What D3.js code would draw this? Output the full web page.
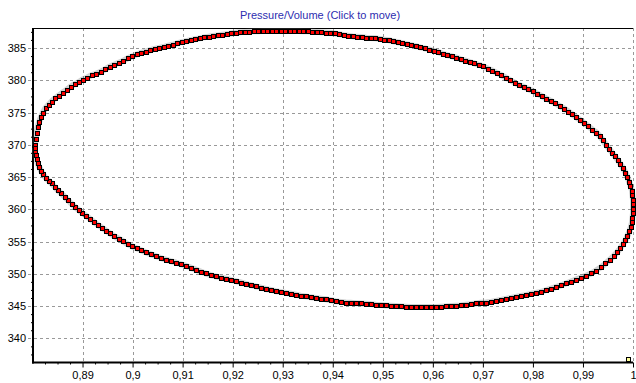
<!DOCTYPE html>
<html>
<head>
<meta charset="utf-8">
<script src="https://cdn.jsdelivr.net/npm/d3@7"></script>
<style>
    body { margin: 0; background: #fff; }
    svg { display: block; font-family: "Liberation Sans", Arial, sans-serif; }
</style>
</head>
<body>
<div id="chart"></div>
<script>
// one cycle: upper branch left -> right, then lower branch back
const volume = [
    0.8805, 0.8806, 0.8808, 0.8810, 0.8813, 0.8817, 0.8821, 0.8826, 0.8832, 0.8838,
    0.8845, 0.8852, 0.8860, 0.8868, 0.8876, 0.8884, 0.8892, 0.8900, 0.8909, 0.8918,
    0.8927, 0.8936, 0.8945, 0.8954, 0.8963, 0.8972, 0.8981, 0.8990, 0.8999, 0.9008,
    0.9017, 0.9026, 0.9035, 0.9044, 0.9053, 0.9062, 0.9071, 0.9080, 0.9089, 0.9098,
    0.9107, 0.9116, 0.9125, 0.9134, 0.9143, 0.9152, 0.9161, 0.9170, 0.9179, 0.9188,
    0.9197, 0.9206, 0.9215, 0.9224, 0.9233, 0.9242, 0.9251, 0.9260, 0.9269, 0.9278,
    0.9287, 0.9296, 0.9305, 0.9314, 0.9323, 0.9332, 0.9341, 0.9350, 0.9359, 0.9368,
    0.9377, 0.9386, 0.9395, 0.9404, 0.9413, 0.9422, 0.9431, 0.9440, 0.9449, 0.9458,
    0.9467, 0.9476, 0.9485, 0.9494, 0.9503, 0.9512, 0.9521, 0.9530, 0.9539, 0.9548,
    0.9557, 0.9566, 0.9575, 0.9584, 0.9593, 0.9602, 0.9611, 0.9620, 0.9629, 0.9638,
    0.9647, 0.9656, 0.9665, 0.9674, 0.9683, 0.9692, 0.9701, 0.9710, 0.9719, 0.9728,
    0.9737, 0.9746, 0.9755, 0.9764, 0.9773, 0.9782, 0.9791, 0.9800, 0.9809, 0.9818,
    0.9827, 0.9836, 0.9845, 0.9854, 0.9863, 0.9871, 0.9879, 0.9887, 0.9895, 0.9903,
    0.9911, 0.9919, 0.9927, 0.9934, 0.9940, 0.9946, 0.9952, 0.9958, 0.9964, 0.9970,
    0.9975, 0.9980, 0.9985, 0.9989, 0.9992, 0.9995, 0.9998, 0.9999, 1.0000, 1.0000,
    1.0000,
    1.0000, 0.9999, 0.9998, 0.9996, 0.9993, 0.9989, 0.9985, 0.9980, 0.9975, 0.9969,
    0.9962, 0.9954, 0.9945, 0.9936, 0.9926, 0.9916, 0.9906, 0.9896, 0.9886, 0.9876,
    0.9866, 0.9856, 0.9846, 0.9836, 0.9826, 0.9816, 0.9806, 0.9796, 0.9786, 0.9776,
    0.9766, 0.9756, 0.9746, 0.9736, 0.9726, 0.9716, 0.9706, 0.9696, 0.9686, 0.9676,
    0.9666, 0.9656, 0.9646, 0.9636, 0.9626, 0.9616, 0.9606, 0.9596, 0.9586, 0.9576,
    0.9566, 0.9556, 0.9546, 0.9536, 0.9526, 0.9516, 0.9506, 0.9496, 0.9486, 0.9476,
    0.9466, 0.9456, 0.9446, 0.9436, 0.9426, 0.9416, 0.9406, 0.9396, 0.9386, 0.9376,
    0.9366, 0.9356, 0.9346, 0.9336, 0.9326, 0.9316, 0.9306, 0.9296, 0.9286, 0.9276,
    0.9266, 0.9256, 0.9246, 0.9236, 0.9226, 0.9216, 0.9206, 0.9196, 0.9186, 0.9176,
    0.9166, 0.9156, 0.9146, 0.9136, 0.9126, 0.9116, 0.9106, 0.9096, 0.9086, 0.9076,
    0.9066, 0.9056, 0.9046, 0.9036, 0.9026, 0.9017, 0.9008, 0.8999, 0.8990, 0.8981,
    0.8972, 0.8963, 0.8955, 0.8947, 0.8939, 0.8931, 0.8923, 0.8915, 0.8907, 0.8899,
    0.8892, 0.8885, 0.8878, 0.8871, 0.8864, 0.8857, 0.8850, 0.8844, 0.8838, 0.8832,
    0.8826, 0.8821, 0.8817, 0.8813, 0.8810, 0.8808, 0.8806, 0.8805, 0.8805
];

const pressure = [
    369.9, 370.9, 371.8, 372.7, 373.5, 374.3, 375.0, 375.7, 376.2, 376.7,
    377.2, 377.6, 378.1, 378.5, 379.0, 379.4, 379.7, 380.1, 380.4, 380.8,
    381.0, 381.3, 381.7, 382.1, 382.4, 382.7, 383.0, 383.4, 383.7, 384.0,
    384.25, 384.45, 384.65, 384.85, 385.0, 385.15, 385.35, 385.5, 385.7, 385.9,
    386.05, 386.2, 386.35, 386.5, 386.65, 386.75, 386.85, 386.95, 387.05, 387.15,
    387.25, 387.35, 387.45, 387.5, 387.55, 387.6, 387.6, 387.65, 387.65, 387.65,
    387.65, 387.65, 387.65, 387.65, 387.65, 387.65, 387.6, 387.6, 387.55, 387.5,
    387.45, 387.4, 387.35, 387.25, 387.15, 387.0, 386.9, 386.8, 386.75, 386.7,
    386.6, 386.55, 386.5, 386.4, 386.3, 386.2, 386.05, 385.9, 385.75, 385.6,
    385.45, 385.3, 385.1, 384.95, 384.75, 384.55, 384.35, 384.1, 383.9, 383.7,
    383.5, 383.25, 383.05, 382.8, 382.6, 382.4, 382.15, 381.8, 381.5, 381.15,
    380.8, 380.4, 380.0, 379.6, 379.25, 378.95, 378.65, 378.3, 377.9, 377.55,
    377.15, 376.8, 376.4, 376.0, 375.6, 375.15, 374.7, 374.25, 373.8, 373.35,
    372.85, 372.35, 371.9, 371.3, 370.7, 370.0, 369.4, 368.8, 368.2, 367.6,
    367.0, 366.4, 365.7, 365.0, 364.3, 363.6, 362.9, 362.2, 361.5, 360.8,
    360.1,
    359.4, 358.7, 358.0, 357.3, 356.6, 355.9, 355.2, 354.6, 354.0, 353.4,
    352.8, 352.2, 351.6, 351.0, 350.5, 350.05, 349.7, 349.4, 349.1, 348.8,
    348.5, 348.2, 347.95, 347.7, 347.45, 347.2, 347.05, 346.9, 346.7, 346.55,
    346.4, 346.25, 346.1, 345.95, 345.8, 345.65, 345.55, 345.5, 345.4, 345.3,
    345.2, 345.1, 345.05, 345.0, 344.95, 344.9, 344.85, 344.85, 344.85, 344.85,
    344.85, 344.85, 344.9, 344.95, 345.0, 345.05, 345.1, 345.15, 345.2, 345.3,
    345.35, 345.4, 345.45, 345.5, 345.55, 345.65, 345.75, 345.9, 346.05, 346.15,
    346.25, 346.35, 346.5, 346.6, 346.75, 346.9, 347.05, 347.2, 347.3, 347.5,
    347.65, 347.85, 348.05, 348.25, 348.45, 348.65, 348.85, 349.05, 349.25, 349.4,
    349.6, 349.8, 350.05, 350.35, 350.65, 350.95, 351.25, 351.5, 351.75, 351.95,
    352.2, 352.45, 352.75, 353.05, 353.35, 353.65, 353.95, 354.25, 354.6, 355.05,
    355.45, 355.85, 356.25, 356.7, 357.15, 357.55, 358.0, 358.5, 359.0, 359.45,
    359.9, 360.35, 360.85, 361.4, 361.95, 362.5, 363.0, 363.5, 364.0, 364.45,
    364.9, 365.4, 366.0, 366.6, 367.2, 367.8, 368.4, 369.0, 369.5
];

// the small yellow "click to move" handle in the bottom right corner
const cursorPoint = { volume: 0.9991, pressure: 336.8 };

const xTicks = [0.89, 0.90, 0.91, 0.92, 0.93, 0.94, 0.95, 0.96, 0.97, 0.98, 0.99, 1.00];
const yTicks = [340, 345, 350, 355, 360, 365, 370, 375, 380, 385];
const xDomain = [0.8801, 1.0];
const yDomain = [336.25, 388.1];
const chartTitle = 'Pressure/Volume (Click to move)';

class PVChart {

    constructor(_config, data) {
        this.config = {
            parentElement: _config.parentElement,
            containerWidth: 636,
            containerHeight: 383,
            margin: { top: 28, right: 3, bottom: 20.5, left: 33 }
        }
        this.data = data;
        this.initVis();
    }

    initVis() {
        let vis = this;
        vis.width = vis.config.containerWidth - vis.config.margin.left - vis.config.margin.right;
        vis.height = vis.config.containerHeight - vis.config.margin.top - vis.config.margin.bottom;

        vis.svg = d3.select(vis.config.parentElement)
            .append('svg')
            .attr('width', vis.config.containerWidth)
            .attr('height', vis.config.containerHeight);

        vis.chart = vis.svg.append('g')
            .attr('transform', `translate(${vis.config.margin.left},${vis.config.margin.top})`);

        vis.xScale = d3.scaleLinear().domain(xDomain).range([0, vis.width]);
        vis.yScale = d3.scaleLinear().domain(yDomain).range([vis.height, 0]);

        // comma as decimal separator, like the original
        vis.locale = d3.formatLocale({ decimal: ',', thousands: '.', grouping: [3], currency: ['', ''] });

        vis.svg.append('text')
            .attr('x', 320)
            .attr('y', 19)
            .attr('text-anchor', 'middle')
            .attr('font-size', 11)
            .attr('fill', '#2d2db0')
            .text(chartTitle);

        vis.renderVis();
    }

    renderVis() {
        let vis = this;

        // dashed grid
        vis.chart.append('g')
            .selectAll('line')
            .data(xTicks)
            .join('line')
            .attr('x1', d => Math.round(vis.xScale(d)) + 0.5)
            .attr('x2', d => Math.round(vis.xScale(d)) + 0.5)
            .attr('y1', 0)
            .attr('y2', vis.height)
            .attr('stroke', '#999')
            .attr('stroke-dasharray', '3,3');

        vis.chart.append('g')
            .selectAll('line')
            .data(yTicks)
            .join('line')
            .attr('x1', -5)
            .attr('x2', vis.xScale(1.0))
            .attr('y1', d => Math.round(vis.yScale(d)) + 0.5)
            .attr('y2', d => Math.round(vis.yScale(d)) + 0.5)
            .attr('stroke', '#999')
            .attr('stroke-dasharray', '3,3');

        // axes
        let xAxis = d3.axisBottom(vis.xScale)
            .tickValues(xTicks)
            .tickSize(5)
            .tickPadding(4)
            .tickFormat(vis.locale.format('~g'));

        let xMinor = d3.axisBottom(vis.xScale)
            .tickValues(d3.range(36).map(i => 0.8825 + i * 0.0025).filter(d => d < 1.0 && Math.abs(d * 100 - Math.round(d * 100)) > 0.01))
            .tickSize(2)
            .tickFormat('');

        let yAxis = d3.axisLeft(vis.yScale)
            .tickValues(yTicks)
            .tickSize(0)
            .tickPadding(7)
            .tickFormat(d3.format('d'));

        let yMinor = d3.axisLeft(vis.yScale)
            .tickValues(d3.range(337.5, 388, 1.25).filter(d => d % 5 !== 0))
            .tickSize(2)
            .tickFormat('');

        [xAxis, xMinor].forEach(a => {
            vis.chart.append('g')
                .attr('transform', `translate(0,${vis.height})`)
                .call(a)
                .call(g => g.select('.domain').remove())
                .call(g => g.selectAll('text').attr('font-size', 11).attr('fill', '#000').attr('font-family', '"Liberation Sans", Arial, sans-serif'))
                .call(g => g.selectAll('line').attr('stroke', '#000'));
        });

        [yAxis, yMinor].forEach(a => {
            vis.chart.append('g')
                .call(a)
                .call(g => g.select('.domain').remove())
                .call(g => g.selectAll('text').attr('font-size', 11).attr('fill', '#000').attr('font-family', '"Liberation Sans", Arial, sans-serif'))
                .call(g => g.selectAll('line').attr('stroke', '#000'));
        });

        // frame: thick left and bottom, thin top
        vis.chart.append('line')
            .attr('x1', 0).attr('x2', 0)
            .attr('y1', 0).attr('y2', vis.height + 1)
            .attr('stroke', '#000').attr('stroke-width', 2);
        vis.chart.append('line')
            .attr('x1', -1).attr('x2', vis.width)
            .attr('y1', vis.height).attr('y2', vis.height)
            .attr('stroke', '#000').attr('stroke-width', 2);
        vis.chart.append('line')
            .attr('x1', 0).attr('x2', vis.xScale(1.0))
            .attr('y1', 0.5).attr('y2', 0.5)
            .attr('stroke', '#000').attr('stroke-width', 1);

        let points = vis.data.volume.map((v, i) => ({ volume: v, pressure: vis.data.pressure[i] }));

        // faint shadow under the markers
        vis.chart.append('path')
            .datum(points)
            .attr('d', d3.line().x(d => vis.xScale(d.volume)).y(d => vis.yScale(d.pressure)))
            .attr('fill', 'none')
            .attr('stroke', '#666')
            .attr('stroke-opacity', 0.3)
            .attr('stroke-width', 6)
            .attr('stroke-linejoin', 'round');

        // markers snapped to the pixel grid so they stay crisp
        vis.chart.append('g')
            .selectAll('rect')
            .data(points)
            .join('rect')
            .attr('x', d => Math.round(vis.xScale(d.volume)) - 1.5)
            .attr('y', d => Math.round(vis.yScale(d.pressure)) - 1.5)
            .attr('width', 4)
            .attr('height', 4)
            .attr('fill', '#ff0000')
            .attr('stroke', '#000')
            .attr('stroke-width', 1);

        vis.chart.append('rect')
            .attr('x', Math.round(vis.xScale(cursorPoint.volume)) - 1.5)
            .attr('y', Math.round(vis.yScale(cursorPoint.pressure)) - 1.5)
            .attr('width', 4)
            .attr('height', 4)
            .attr('fill', '#ffff99')
            .attr('stroke', '#000')
            .attr('stroke-width', 1);
    }
}

const pvChart = new PVChart({ parentElement: '#chart' }, { volume, pressure });
</script>
</body>
</html>
